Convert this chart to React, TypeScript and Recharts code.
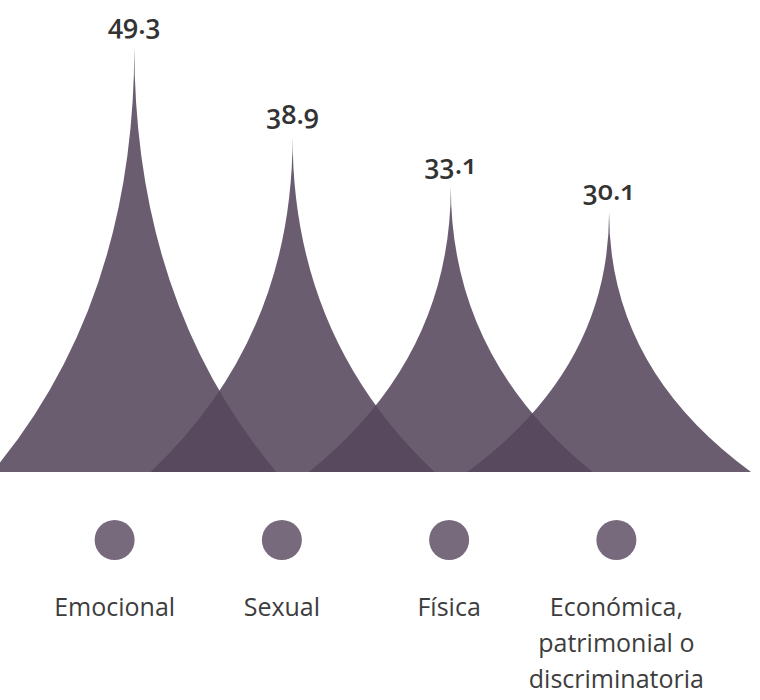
import React from 'react';
import { BarChart, Bar, XAxis, YAxis, LabelList } from 'recharts';

// share of women reporting each type of violence (%)
const categories = ['Emocional', 'Sexual', 'Física', 'Económica, patrimonial o discriminatoria'];
const percentages = [49.3, 38.9, 33.1, 30.1];
const tickLines = [['Emocional'], ['Sexual'], ['Física'], ['Económica,', 'patrimonial o', 'discriminatoria']];

const data = categories.map((name, i) => ({ name, value: percentages[i] }));

const SPIKE_FILL = '#56475c';
const DOT_FILL = '#776a7d';
const SPIKE_HALF_WIDTH = 142;

// concave "peak" drawn around the bar's centre line, needle-like at the top
const Spike = (props: any) => {
  const { x, y, width, height } = props;
  if (!height) return null;
  const cx = x + width / 2;
  const base = y + height;
  const ctrl = base - height * 0.4;
  const hw = SPIKE_HALF_WIDTH;
  const d = `M${cx - hw},${base} Q${cx},${ctrl} ${cx},${y} Q${cx},${ctrl} ${cx + hw},${base} Z`;
  return <path d={d} fill={SPIKE_FILL} fillOpacity={0.88} />;
};

const ValueLabel = (props: any) => {
  const { x, y, width, value } = props;
  return (
    <text
      x={x + width / 2}
      y={y - 13}
      textAnchor="middle"
      fill="#333"
      fontSize={27}
      fontWeight={600}
      fontFamily="'Open Sans', sans-serif"
      style={{ fontFeatureSettings: '"onum" 1', fontVariantNumeric: 'oldstyle-nums' }}
    >
      {value}
    </text>
  );
};

const CategoryTick = (props: any) => {
  const { x, y, index, payload } = props;
  const lines = tickLines[index] ?? [payload.value];
  return (
    <g>
      <circle cx={x} cy={y + 60} r={20} fill={DOT_FILL} />
      {lines.map((line: string, i: number) => (
        <text
          key={i}
          x={x}
          y={y + 136 + i * 36}
          textAnchor="middle"
          fill="#3d3d3d"
          fontSize={25}
          fontFamily="'Open Sans', sans-serif"
        >
          {line}
        </text>
      ))}
    </g>
  );
};

export default function App() {
  return (
    <div style={{ position: 'absolute', left: 0, top: 0, background: '#fff' }}>
      <BarChart width={760} height={700} data={data} margin={{ top: 41, right: 60, bottom: 0, left: 31 }}>
        <XAxis xAxisId="peaks" dataKey="name" hide padding={{ left: 24, right: 12 }} />
        <XAxis
          xAxisId="labels"
          dataKey="name"
          height={228}
          axisLine={false}
          tickLine={false}
          interval={0}
          tick={<CategoryTick />}
        />
        <YAxis hide domain={[0, 50]} />
        <Bar xAxisId="peaks" dataKey="value" shape={<Spike />} isAnimationActive={false}>
          <LabelList dataKey="value" content={<ValueLabel />} />
        </Bar>
      </BarChart>
    </div>
  );
}
